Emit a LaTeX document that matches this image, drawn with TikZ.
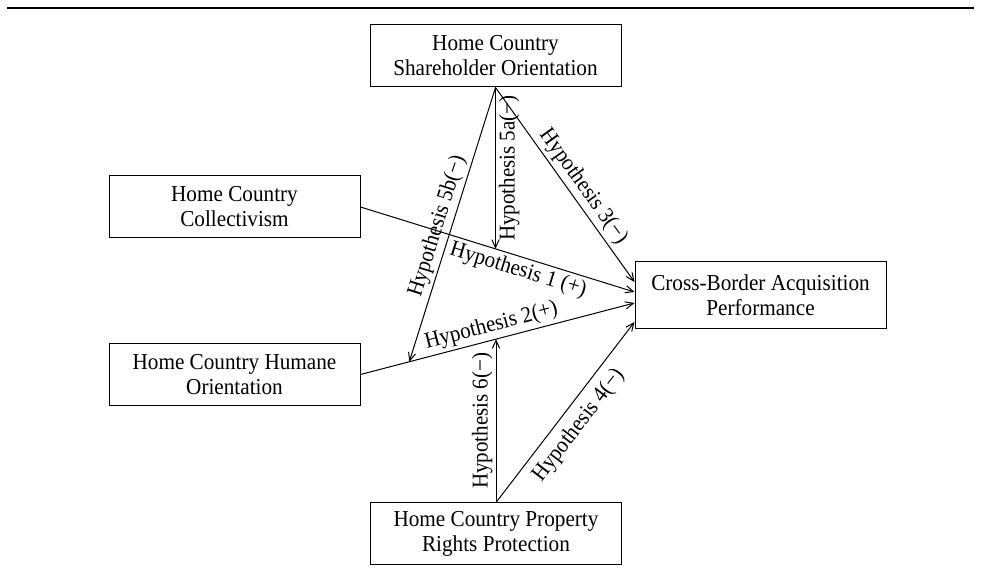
\documentclass[tikz,border=0pt]{standalone}
\usepackage{fontspec}
\setmainfont{Liberation Serif}[FakeStretch=0.93]
\usetikzlibrary{arrows.meta,calc}
\begin{document}
\begin{tikzpicture}[x=0.5pt,y=-0.5pt,
  box/.style={draw, line width=0.5pt, minimum width=125.5pt, minimum height=31pt,
    align=center, inner sep=0pt, font=\fontsize{11.4}{12.5}\selectfont},
  conn/.style={line width=0.5pt, -{Straight Barb[length=4pt,width=3.6pt]}},
  lab/.style={font=\fontsize{11.3}{13}\selectfont, inner sep=1.5pt}]
\useasboundingbox (0,0) rectangle (981,577);
\coordinate (r1) at (7,8);
\coordinate (r2) at (974,8);
\draw[line width=0.8pt] (r1) -- (r2);
\node[box] (sho) at (495.5,56) {Home Country\\Shareholder Orientation};
\node[box] (col) at (234.5,207) {Home Country\\Collectivism};
\node[box] (hum) at (234.5,374.5) {Home Country Humane\\Orientation};
\node[box, minimum height=33.5pt] (cbp) at (760.5,295.5) {Cross-Border Acquisition\\Performance};
\node[box, minimum height=30.5pt] (prp) at (496,533.5) {Home Country Property\\Rights Protection};
\coordinate (a3) at ($(cbp.west)+(0,-13.5)$);
\coordinate (a1) at ($(cbp.west)+(0,-3.5)$);
\coordinate (a2) at ($(cbp.west)+(0,7.5)$);
\coordinate (a4) at ($(cbp.west)+(0,26.5)$);
\coordinate (p5a) at ($(col.east)!0.4927!(a1)$);
\coordinate (p5b) at ($(hum.east)!0.178!(a2)$);
\coordinate (p6) at ($(hum.east)!0.4945!(a2)$);
\draw[conn] (col.east) -- node[lab, sloped, below, pos=0.59] {Hypothesis 1 (+)} (a1);
\draw[conn] (hum.east) -- node[lab, sloped, above, pos=0.49] {Hypothesis 2(+)} (a2);
\draw[conn] (sho.south) -- node[lab, sloped, above, pos=0.55] {Hypothesis 3(−)} (a3);
\draw[conn] (prp.north) -- node[lab, sloped, below, pos=0.49, inner sep=4pt] {Hypothesis 4(−)} (a4);
\draw[conn] (sho.south) -- node[lab, pos=0.5, rotate=90, anchor=north] {Hypothesis 5a(−)} (sho.south |- p5a);
\draw[conn] (sho.south) -- node[lab, sloped, above, pos=0.52] {Hypothesis 5b(−)} (p5b);
\draw[conn] (prp.north) -- node[lab, pos=0.5, rotate=90, anchor=south] {Hypothesis 6(−)} (prp.north |- p6);
\end{tikzpicture}
\end{document}
